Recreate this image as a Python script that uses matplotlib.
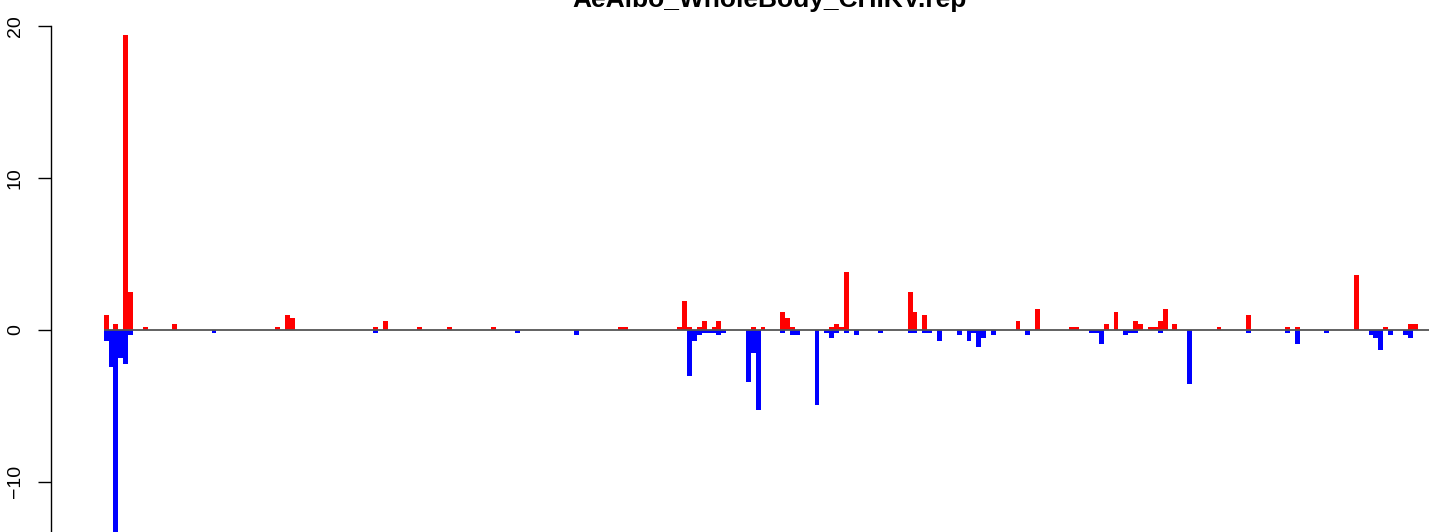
import numpy as np
import matplotlib
matplotlib.use("Agg")
import matplotlib.pyplot as plt

plt.rcParams['font.family'] = ['Liberation Sans', 'DejaVu Sans']

# ---- data -----------------------------------------------------------
title = "AeAlbo_WholeBody_CHIKV.rep"
n_slots = 270

slot_idx = [0, 1, 2, 3, 4, 5, 8, 14, 22, 35, 37, 38,
            55, 57, 64, 70, 79, 84,
            96, 105, 106, 117, 118, 119, 120, 121, 122, 123, 124, 125, 126,
            131, 132, 133, 134, 138, 139, 140, 141,
            145, 147, 148, 149, 150, 151, 153, 158, 164, 165, 167, 168, 170,
            174, 176, 177, 178, 179, 181, 186, 188, 190,
            197, 198, 201, 202, 203, 204, 206, 208, 209, 210, 211, 213, 214,
            215, 216, 218, 221, 227, 233, 241,
            243, 249, 255, 258, 259, 260, 261, 262, 265, 266, 267]

up_vals = [0.97, 0, 0.37, 0, 19.4, 2.48, 0.18, 0.37, 0, 0.18, 0.97, 0.77,
           0.18, 0.57, 0.18, 0.18, 0.18, 0,
           0, 0.18, 0.18, 0.18, 1.89, 0.18, 0, 0.18, 0.57, 0, 0.18, 0.57, 0,
           0, 0.18, 0, 0.18, 1.16, 0.77, 0.18, 0,
           0, 0, 0.18, 0.37, 0.18, 3.8, 0, 0, 2.48, 1.16, 0.97, 0, 0,
           0, 0, 0, 0, 0, 0, 0.57, 0, 1.36,
           0.18, 0.18, 0, 0, 0, 0.37, 1.16, 0, 0, 0.57, 0.37, 0.18, 0.18,
           0.57, 1.36, 0.37, 0, 0.18, 0.97, 0.18,
           0.18, 0, 3.6, 0, 0, 0, 0.18, 0, 0, 0.37, 0.37]

down_vals = [-0.73, -2.44, -14.5, -1.85, -2.24, -0.35, 0, 0, -0.22, 0, 0, 0,
             -0.22, 0, 0, 0, 0, -0.22,
             -0.35, 0, 0, 0, 0, -3.03, -0.73, -0.35, -0.22, -0.22, -0.22, -0.35, -0.22,
             -3.45, -1.54, -5.3, 0, -0.22, 0, -0.35, -0.35,
             -4.97, -0.22, -0.55, -0.22, 0, -0.22, -0.35, -0.22, -0.22, -0.22, -0.22, -0.22, -0.73,
             -0.35, -0.73, -0.22, -1.12, -0.55, -0.35, 0, -0.35, 0,
             0, 0, -0.22, -0.22, -0.95, 0, 0, -0.35, -0.22, -0.22, 0, 0, 0,
             -0.22, 0, 0, -3.58, 0, -0.22, -0.22,
             -0.95, -0.22, 0, -0.35, -0.55, -1.34, 0, -0.35, -0.35, -0.55, 0]

y_ticks = [-10, 0, 10, 20]

# ---- full per-slot series -------------------------------------------
up = np.zeros(n_slots)
down = np.zeros(n_slots)
up[slot_idx] = up_vals
down[slot_idx] = down_vals
x = np.arange(n_slots)

# ---- figure ---------------------------------------------------------
W, H = 1429, 532
fig = plt.figure(figsize=(W / 100, H / 100), dpi=100)
left_px, right_px = 50.7, 1480.3
ax = fig.add_axes([left_px / W, 0, (right_px - left_px) / W, 1])

ax.bar(x, up, width=1, align='edge', color='#FF0000', linewidth=0,
       antialiased=False)
ax.bar(x, down, width=1, align='edge', color='#0000FF', linewidth=0,
       antialiased=False)
ax.hlines(0, 0, n_slots + 1, color='#555555', lw=1.3, zorder=3)

ax.set_xlim(-0.04 * n_slots, 1.04 * n_slots)
ax.set_ylim(-(H - 329.7) / 15.18, 329.7 / 15.18)

for s in ['top', 'right', 'bottom']:
    ax.spines[s].set_visible(False)
ax.spines['left'].set_bounds(-20, 20)
ax.spines['left'].set_linewidth(1.0)
ax.set_xticks([])
ax.set_yticks(y_ticks)
ax.set_yticklabels([str(t).replace('-', '\u2212') for t in y_ticks])
ax.tick_params(axis='y', length=9.4, width=1.0, pad=10, labelsize=14,
               labelrotation=90)
for lbl in ax.get_yticklabels():
    lbl.set_va('center')

fig.text(770 / W, 1 - 6.5 / H, title, ha='center', va='baseline',
         fontsize=19, fontweight='bold')

fig.savefig('out.png', dpi=100)
